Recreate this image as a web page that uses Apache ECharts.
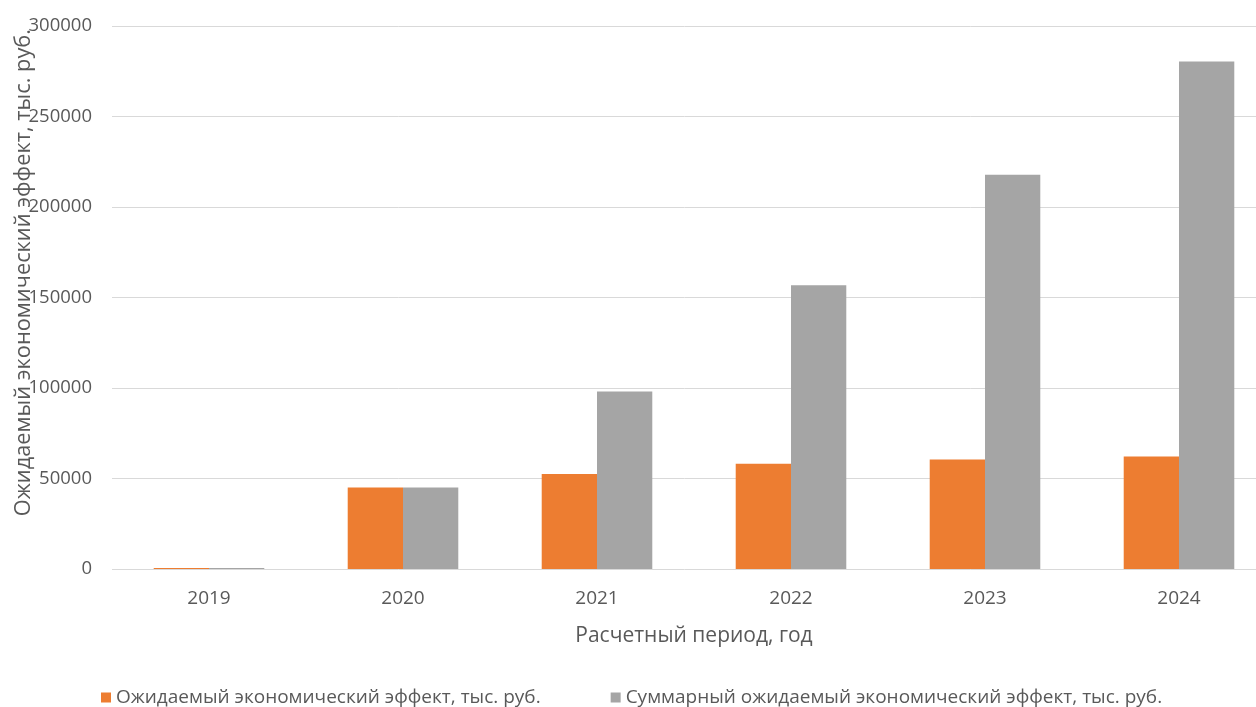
<!DOCTYPE html>
<html>
<head>
<meta charset="utf-8">
<script src="https://cdn.jsdelivr.net/npm/echarts@6/dist/echarts.min.js"></script>
<style>html,body{margin:0;padding:0;background:#fff;}#c{width:1256px;height:707px;}</style>
</head>
<body>
<div id="c"></div>
<script>
const categories = ['2019', '2020', '2021', '2022', '2023', '2024'];
const expectedEffect = [500, 45000, 52500, 58200, 60500, 62100];
const totalEffect = [500, 45000, 98100, 156800, 217800, 280400];
const seriesNames = ['Ожидаемый экономический эффект, тыс. руб.', 'Суммарный ожидаемый экономический эффект, тыс. руб.'];
const yTitle = 'Ожидаемый экономический эффект, тыс. руб.';
const xTitle = 'Расчетный период, год';

const chart = echarts.init(document.getElementById('c'));
const txt = '#595959';
chart.setOption({
  animation: false,
  backgroundColor: '#fff',
  grid: { left: 112, top: 26, width: 1164, height: 543, containLabel: false, outerBoundsMode: 'none' },
  legend: {
    left: 96, top: 683, itemWidth: 10, itemHeight: 10, icon: 'rect', itemGap: 70,
    textStyle: { color: txt, fontSize: 19, fontFamily: 'Open Sans, sans-serif' },
    data: seriesNames
  },
  xAxis: {
    type: 'category', data: categories,
    axisLine: { show: false }, axisTick: { show: false },
    axisLabel: { color: txt, fontSize: 19, margin: 20, fontFamily: 'Open Sans, sans-serif' },
    name: xTitle, nameLocation: 'middle', nameGap: 57,
    nameTextStyle: { color: txt, fontSize: 21, fontFamily: 'Open Sans, sans-serif' }
  },
  yAxis: {
    type: 'value', min: 0, max: 300000, interval: 50000,
    axisLine: { show: false }, axisTick: { show: false },
    axisLabel: { color: txt, fontSize: 18.5, margin: 20, fontFamily: 'Open Sans, sans-serif',
      formatter: function (v) { return String(v); } },
    splitLine: { lineStyle: { color: '#d9d9d9', width: 1 } }
  },
  graphic: [{
    type: 'text', left: 13, top: 29, rotation: Math.PI / 2,
    style: { text: yTitle, fill: txt, fontSize: 21.8, fontFamily: 'Open Sans, sans-serif' }
  }],
  series: [
    { name: seriesNames[0], type: 'bar', data: expectedEffect, barGap: '0%', barCategoryGap: '43%',
      itemStyle: { color: '#ED7D31' } },
    { name: seriesNames[1], type: 'bar', data: totalEffect, barGap: '0%', barCategoryGap: '43%',
      itemStyle: { color: '#A5A5A5' } }
  ]
});
</script>
</body>
</html>
